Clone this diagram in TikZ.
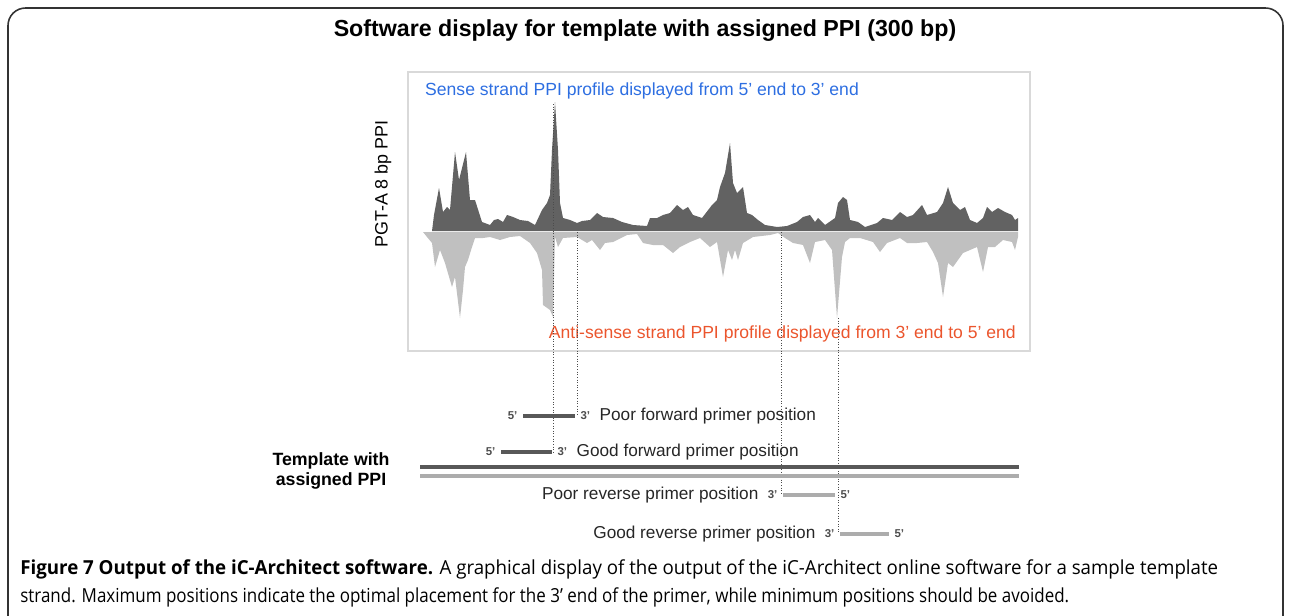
\documentclass[tikz,border=0pt]{standalone}
\usepackage{fontspec}
\usepackage{graphicx}
\setmainfont{Liberation Sans}
\newfontfamily\capfont{Open Sans}
\usetikzlibrary{positioning}

\definecolor{sensecol}{RGB}{45,110,225}
\definecolor{antisensecol}{RGB}{235,85,45}
\definecolor{profdark}{RGB}{98,98,98}
\definecolor{proflight}{RGB}{192,192,192}
\definecolor{bardark}{RGB}{88,88,88}
\definecolor{barlight}{RGB}{172,172,172}

\begin{document}
\begin{tikzpicture}[x=0.02cm,y=-0.02cm,
	fwdbar/.style={line width=2.6pt,bardark},
	revbar/.style={line width=2.6pt,barlight},
	guide/.style={densely dotted,line width=0.5pt,black!70},
	endlab/.style={font=\fontsize{6.5}{7}\selectfont\bfseries,text=black!70,inner sep=1pt},
	primlab/.style={font=\fontsize{9.8}{11}\selectfont,text=black!85,inner sep=0pt}]
	\useasboundingbox (0,0) rectangle (1290,615);
	% outer frame
	\begin{scope}
		\clip (0,0) rectangle (1290,615);
		\draw[black!80,line width=0.9pt,rounded corners=10] (8,8) rectangle (1283,640);
	\end{scope}
	\node[anchor=base] (title) at (645,37) {\fontsize{13.2}{15}\selectfont\bfseries Software display for template with assigned PPI (300 bp)};
	% profile panel
	\draw[black!15,line width=0.8pt] (408,72) rectangle (1030,351);
	\node[anchor=west,text=sensecol,font=\fontsize{10}{11}\selectfont] (sense) at (419,91) {Sense strand PPI profile displayed from 5’ end to 3’ end};
	\node[anchor=east,text=antisensecol,font=\fontsize{10}{11}\selectfont] (antisense) at (1022,334) {Anti-sense strand PPI profile displayed from 3’ end to 5’ end};
	\node[rotate=90,font=\fontsize{10.2}{11}\selectfont] (ylab) at (383,184) {PGT-A 8 bp PPI};
	% sense strand
	\fill[profdark]
		(432,231) -- (434,215) -- (439,188) -- (443,212) -- (447,207) -- (450,210) -- (455,152)
		-- (459,180) -- (466,152) -- (470,200) -- (475,200) -- (482,222) -- (490,225) -- (494,220)
		-- (498,219) -- (503,222) -- (507,215) -- (513,217) -- (520,220) -- (528,221) -- (535,225)
		-- (542,210) -- (547,203) -- (550,195) -- (552,150) -- (555,102) -- (558,150) -- (560,203)
		-- (563,218) -- (570,220) -- (577,223) -- (582,221) -- (590,220) -- (597,213) -- (603,217)
		-- (613,218) -- (622,222) -- (633,225) -- (647,226) -- (650,218) -- (657,218) -- (663,215)
		-- (670,213) -- (677,205) -- (683,210) -- (688,207) -- (693,215) -- (702,218) -- (712,205)
		-- (717,200) -- (720,187) -- (725,173) -- (730,143) -- (733,183) -- (737,193) -- (740,190)
		-- (743,187) -- (747,213) -- (752,215) -- (758,220) -- (765,225) -- (777,227) -- (787,226)
		-- (797,222) -- (803,217) -- (810,215) -- (815,222) -- (818,218) -- (825,225) -- (835,218)
		-- (838,203) -- (843,197) -- (847,200) -- (850,220) -- (858,222) -- (865,227) -- (877,223)
		-- (883,218) -- (892,220) -- (900,212) -- (907,217) -- (913,215) -- (922,205) -- (927,215)
		-- (937,212) -- (943,203) -- (948,187) -- (953,203) -- (960,210) -- (965,207) -- (970,220)
		-- (977,223) -- (983,218) -- (987,207) -- (992,212) -- (998,208) -- (1005,212) -- (1012,215)
		-- (1015,220) -- (1018,218) -- (1018,231) -- cycle;
	% anti-sense strand
	\fill[proflight]
		(423,232) -- (427,237) -- (432,243) -- (435,267) -- (440,250) -- (445,263) -- (452,287)
		-- (455,277) -- (460,318) -- (463,290) -- (465,267) -- (468,260) -- (472,247) -- (475,238)
		-- (483,238) -- (490,237) -- (500,240) -- (510,237) -- (520,236) -- (530,243) -- (537,253)
		-- (542,270) -- (543,305) -- (550,310) -- (553,317) -- (555,237) -- (558,247) -- (563,238)
		-- (577,237) -- (587,243) -- (592,240) -- (600,250) -- (605,243) -- (613,242) -- (627,235)
		-- (637,234) -- (643,243) -- (653,245) -- (663,245) -- (673,253) -- (680,247) -- (690,242)
		-- (700,238) -- (710,247) -- (717,242) -- (723,277) -- (728,250) -- (732,260) -- (735,250)
		-- (738,260) -- (743,243) -- (753,237) -- (770,235) -- (778,233) -- (785,238) -- (793,243)
		-- (803,245) -- (810,263) -- (815,242) -- (825,240) -- (832,250) -- (837,318) -- (842,257)
		-- (845,242) -- (850,238) -- (860,238) -- (873,242) -- (880,252) -- (887,243) -- (900,238)
		-- (907,243) -- (917,243) -- (927,242) -- (933,252) -- (938,263) -- (943,297) -- (948,263)
		-- (953,267) -- (963,253) -- (977,247) -- (983,272) -- (988,247) -- (995,247) -- (1003,240)
		-- (1012,242) -- (1015,250) -- (1018,237) -- (1018,232) -- cycle;
	% profile features
	\coordinate (sensepeak) at (553,104);
	\coordinate (lowA) at (577,232);
	\coordinate (lowB) at (781,232);
	\coordinate (antipeak) at (838,318);
	% primers
	\coordinate (pf5) at (523,416);
	\coordinate (pf3) at (575,416);
	\coordinate (gf5) at (501,452);
	\coordinate (gf3) at (552,452);
	\coordinate (pr3) at (783,495);
	\coordinate (pr5) at (835,495);
	\coordinate (gr3) at (840,534);
	\coordinate (gr5) at (889,534);
	\draw[guide] (sensepeak) -- (sensepeak |- gf3);
	\draw[guide] (lowA) -- (lowA |- pf3);
	\draw[guide] (lowB) -- (lowB |- pr3);
	\draw[guide] (antipeak) -- (antipeak |- gr3);
	\draw[fwdbar] (pf5) -- (pf3);
	\draw[fwdbar] (gf5) -- (gf3);
	\draw[revbar] (pr3) -- (pr5);
	\draw[revbar] (gr3) -- (gr5);
	\node[endlab,left=2pt of pf5] (pf5lab) {5’};
	\node[endlab,right=2pt of pf3] (pf3lab) {3’};
	\node[endlab,left=2pt of gf5] (gf5lab) {5’};
	\node[endlab,right=2pt of gf3] (gf3lab) {3’};
	\node[endlab,left=2pt of pr3] (pr3lab) {3’};
	\node[endlab,right=2pt of pr5] (pr5lab) {5’};
	\node[endlab,left=2pt of gr3] (gr3lab) {3’};
	\node[endlab,right=2pt of gr5] (gr5lab) {5’};
	\node[primlab,right=4pt of pf3lab] (pftext) {Poor forward primer position};
	\node[primlab,right=4pt of gf3lab] (gftext) {Good forward primer position};
	\node[primlab,left=4pt of pr3lab] (prtext) {Poor reverse primer position};
	\node[primlab,left=4pt of gr3lab] (grtext) {Good reverse primer position};
	% template
	\coordinate (tplL) at (420,467);
	\coordinate (tplR) at (1019,467);
	\coordinate (tplL2) at (420,476);
	\coordinate (tplR2) at (1019,476);
	\draw[line width=2.8pt,bardark] (tplL) -- (tplR);
	\draw[line width=2.3pt,barlight] (tplL2) -- (tplR2);
	\node[align=center,font=\fontsize{10.1}{11}\selectfont\bfseries] (tpllab) at (331,471) {Template with\\assigned PPI};
	% caption
	\node[anchor=base west,inner sep=0pt] (cap1) at (20,574) {\resizebox{23.96cm}{\height}{\capfont\fontsize{11}{12}\selectfont\textbf{Figure 7 Output of the iC-Architect software.} A graphical display of the output of the iC-Architect online software for a sample template}};
	\node[anchor=base west,inner sep=0pt] (cap2) at (20,602) {\resizebox{20.98cm}{\height}{\capfont\fontsize{11}{12}\selectfont strand. Maximum positions indicate the optimal placement for the 3’ end of the primer, while minimum positions should be avoided.}};
\end{tikzpicture}
\end{document}
